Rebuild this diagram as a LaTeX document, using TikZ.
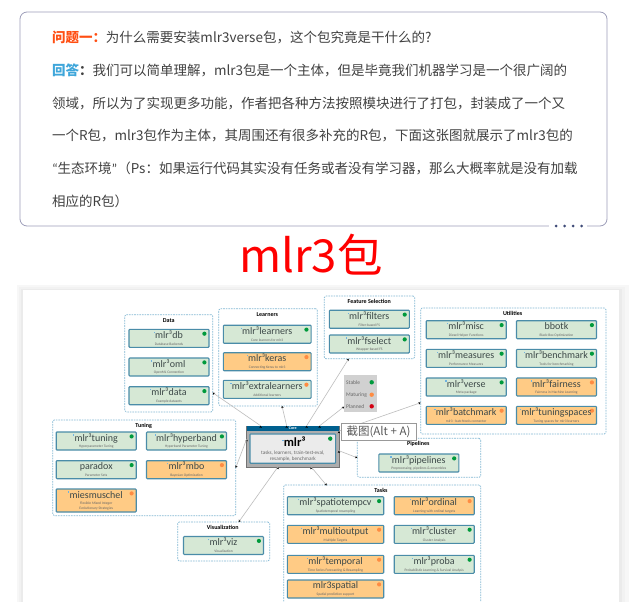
\documentclass[tikz,border=0pt]{standalone}
\usepackage{fontspec}
\usepackage{tikz}
\usetikzlibrary{arrows.meta,shadows}
\setmainfont{Noto Sans CJK SC}
\newfontfamily\pkgfont{Carlito}

\definecolor{boxline}{HTML}{9C9DB8}
\definecolor{boxdots}{HTML}{3F4B78}
\definecolor{bodytxt}{HTML}{404040}
\definecolor{qred}{HTML}{FF4E12}
\definecolor{ablue}{HTML}{3FA6DA}
\definecolor{grpline}{HTML}{82B8D3}
\definecolor{pkgline}{HTML}{4A8CA8}
\definecolor{pkggreen}{HTML}{D6E8D5}
\definecolor{pkgorange}{HTML}{FFCB85}
\definecolor{dotgreen}{HTML}{009A3C}
\definecolor{dotorange}{HTML}{FF8C42}
\definecolor{dotred}{HTML}{D40012}
\definecolor{pkgtxt}{HTML}{3C4848}
\definecolor{subtxt}{HTML}{666666}
\definecolor{iconblue}{HTML}{6FB2E0}
\definecolor{corehead}{HTML}{00608F}
\definecolor{linkgray}{HTML}{BDBDBD}

\newcommand{\lnk}{\llap{\textcolor{iconblue}{\rule[5.5pt]{1.3pt}{1.3pt}}\kern.2pt}}
\newcommand{\pk}[2]{{\fontsize{10}{9}\selectfont\color{pkgtxt}#1}\\[2.4pt]{\color{subtxt}#2}}

\tikzset{
  para/.style={anchor=west,inner sep=0,outer sep=0,text=bodytxt,font=\fontsize{13.5}{14}\selectfont},
  grp/.style={draw=grpline,dashed,dash pattern=on 1.6pt off 1pt,line width=.7pt,rounded corners=1.5pt,inner sep=0,outer sep=0},
  grptitle/.style={inner sep=0,text=black,font=\pkgfont\bfseries\fontsize{6}{7}\selectfont},
  pkg/.style={draw=pkgline,line width=1.1pt,rounded corners=.8pt,minimum width=80,minimum height=18,inner sep=0,outer sep=0,align=center,
    font=\pkgfont\fontsize{3.6}{4.4}\selectfont},
  gdot/.style={path picture={\fill[dotgreen] ([xshift=-4.6pt,yshift=-4.4pt]path picture bounding box.north east) circle (2.1pt);}},
  odot/.style={path picture={\fill[dotorange] ([xshift=-4.6pt,yshift=-4.4pt]path picture bounding box.north east) circle (2.1pt);}},
  stablebox/.style={pkg,fill=pkggreen,gdot},
  matbox/.style={pkg,fill=pkgorange,odot},
  mixbox/.style={pkg,fill=pkggreen,odot},
  qdot/.style={circle,fill=boxdots,minimum size=3,inner sep=0},
  keydot/.style={circle,minimum size=4.4,inner sep=0},
  keytxt/.style={anchor=west,inner sep=0,text=subtxt,font=\pkgfont\fontsize{5.5}{6}\selectfont},
  link/.style={draw=linkgray,line width=.6pt,-{Stealth[length=2.2pt,width=2.4pt,black]}}
}

\begin{document}
\begin{tikzpicture}[x=1pt,y=-1pt]
\useasboundingbox (0,0) rectangle (640,602);

% question box
\path (313.5,119) node[draw=boxline,line width=.8pt,rounded corners=7pt,minimum width=587,minimum height=214,inner sep=0,outer sep=0] (qbox) {};
\path (568,226) node[fill=white,minimum width=38,minimum height=3,inner sep=0] (qgap) {};
\path (556,226) node[qdot] (qd1) {};
\path (564.5,226) node[qdot] (qd2) {};
\path (573,226) node[qdot] (qd3) {};
\path (581.5,226) node[qdot] (qd4) {};
\path (52,37) node[para] (l1) {\textcolor{qred}{\bfseries 问题一\char"FF1A}为什么需要安装mlr3verse包\char"FF0C 这个包究竟是干什么的?};
\path (52,70.5) node[para] (l2) {\textcolor{ablue}{\bfseries 回答}\textbf{\char"FF1A}我们可以简单理解\char"FF0C mlr3包是一个主体\char"FF0C 但是毕竟我们机器学习是一个很广阔的};
\path (52,103) node[para] (l3) {领域\char"FF0C 所以为了实现更多功能\char"FF0C 作者把各种方法按照模块进行了打包\char"FF0C 封装成了一个又};
\path (52,135.5) node[para] (l4) {一个R包\char"FF0C mlr3包作为主体\char"FF0C 其周围还有很多补充的R包\char"FF0C 下面这张图就展示了mlr3包的};
\path (52,168) node[para] (l5) {{\pkgfont “}生态环境{\pkgfont ”}\char"FF08 Ps\char"FF1A 如果运行代码其实没有任务或者没有学习器\char"FF0C 那么大概率就是没有加载};
\path (52,201) node[para] (l6) {相应的R包\char"FF09};
\path (311,255) node[inner sep=0,text=red,font=\fontsize{45.5}{48}\selectfont] (bigtitle) {mlr3包};

% card behind the diagram, soft edge
\path (323,446) node[fill=black!3,minimum width=612,minimum height=322,inner sep=0] (cardedge) {};
\path (322,446.5) node[fill=black!5,minimum width=606,minimum height=319,inner sep=0] (cardedgeb) {};
\path (321.5,447) node[fill=black!8,minimum width=601,minimum height=316,inner sep=0] (cardedgec) {};
\path (321.2,447) node[fill=white,minimum width=596.2,minimum height=314,inner sep=0] (card) {};

% groups
\path (168.7,363.3) node[grp,minimum width=88,minimum height=97.3] (gdata) {};
\path (268,357.3) node[grp,minimum width=98.6,minimum height=97.3] (glearn) {};
\path (369.5,327.3) node[grp,minimum width=90.4,minimum height=62.7] (gfeat) {};
\path (513.3,371) node[grp,minimum width=185.3,minimum height=126] (gutil) {};
\path (144.2,467.8) node[grp,minimum width=183,minimum height=95.7] (gtune) {};
\path (223.7,541.5) node[grp,minimum width=92,minimum height=39] (gvis) {};
\path (419,457.8) node[grp,minimum width=123.4,minimum height=39] (gpipe) {};
\path (382.2,548.5) node[grp,minimum width=197,minimum height=127] (gtask) {};

\path (168.7,320.5) node[grptitle] (tdata) {Data};
\path (267.3,314.5) node[grptitle] (tlearn) {Learners};
\path (369.3,301.7) node[grptitle] (tfeat) {Feature Selection};
\path (512.7,313.3) node[grptitle] (tutil) {Utilities};
\path (143.7,426) node[grptitle] (ttune) {Tuning};
\path (222.7,527.7) node[grptitle] (tvis) {Visualization};
\path (418.3,443.7) node[grptitle] (tpipe) {Pipelines};
\path (381,490.5) node[grptitle] (ttask) {Tasks};

% data
\path (169,338.3) node[stablebox] (db) {\pk{\lnk mlr³db}{Database Backends}};
\path (169,367) node[stablebox] (oml) {\pk{\lnk mlr³oml}{OpenML Connection}};
\path (169,395.7) node[stablebox] (data) {\pk{\lnk mlr³data}{Example datasets}};

% learners
\path (267.2,334.2) node[stablebox,minimum width=87.7] (learners) {\pk{\lnk mlr³learners}{Core learners for mlr3}};
\path (267.2,361.7) node[matbox,minimum width=87.7] (keras) {\pk{\lnk mlr³keras}{Connecting Keras to mlr3}};
\path (267.2,389.3) node[mixbox,minimum width=87.7] (extra) {\pk{\lnk mlr³extralearners}{Additional learners}};

% feature selection
\path (369.3,319.2) node[stablebox] (filters) {\pk{\lnk mlr³filters}{Filter-based FS}};
\path (369.3,344) node[stablebox] (fselect) {\pk{\lnk mlr³fselect}{Wrapper-based FS}};

% utilities
\path (466.2,329.7) node[stablebox] (misc) {\pk{\lnk mlr³misc}{Diesel Helper Functions}};
\path (466.2,358.3) node[stablebox] (measures) {\pk{\lnk mlr³measures}{Performance Measures}};
\path (466.2,387) node[stablebox] (verse) {\pk{\lnk mlr³verse}{Meta-package}};
\path (466.2,415.3) node[matbox] (batchmark) {\pk{\lnk mlr³batchmark}{mlr3 - batchtools connector}};
\path (556.5,329.7) node[stablebox] (bbotk) {\pk{bbotk}{Black-Box Optimization}};
\path (556.5,358.3) node[stablebox] (benchmark) {\pk{\lnk mlr³benchmark}{Tools for benchmarking}};
\path (556.5,387) node[matbox] (fairness) {\pk{\lnk mlr³fairness}{Fairness in Machine Learning}};
\path (556.5,415.3) node[matbox] (tspaces) {\pk{\lnk mlr³tuningspaces}{Tuning spaces for mlr3 learners}};

% tuning
\path (96.2,441) node[stablebox] (tuning) {\pk{\lnk mlr³tuning}{Hyperparameter Tuning}};
\path (186.5,441) node[stablebox] (hyperband) {\pk{\lnk mlr³hyperband}{Hyperband Parameter Tuning}};
\path (96.2,469.7) node[stablebox] (paradox) {\pk{paradox}{Parameter Sets}};
\path (186.5,469.7) node[matbox] (mbo) {\pk{\lnk mlr³mbo}{Bayesian Optimization}};
\path (96.2,500.5) node[matbox,minimum height=23] (mies) {\pk{\lnk miesmuschel}{Flexible Mixed Integer}\\{\color{subtxt}Evolutionary Strategies}};

% visualization, pipelines
\path (223.5,545.5) node[stablebox] (viz) {\pk{\lnk mlr³viz}{Visualization}};
\path (418.8,463) node[stablebox] (pipelines) {\pk{\lnk mlr³pipelines}{Preprocessing, pipelines \& ensembles}};

% tasks
\path (335.5,505.7) node[stablebox,minimum width=96.4] (spatio) {\pk{\lnk mlr³spatiotempcv}{Spatiotemporal resampling}};
\path (335.5,534.3) node[matbox,minimum width=96.4] (multi) {\pk{\lnk mlr³multioutput}{Multiple Targets}};
\path (335.5,564.3) node[matbox,minimum width=96.4] (temporal) {\pk{\lnk mlr³temporal}{Time Series Forecasting \& Resampling}};
\path (335.5,589) node[matbox,minimum width=96.4] (spatial) {\pk{mlr3spatial}{Spatial prediction support}};
\path (434.2,505.7) node[matbox] (ordinal) {\pk{\lnk mlr³ordinal}{Learning with ordinal targets}};
\path (434.2,534.3) node[stablebox] (cluster) {\pk{\lnk mlr³cluster}{Cluster Analysis}};
\path (434.2,564.3) node[stablebox] (proba) {\pk{\lnk mlr³proba}{Probabilistic Learning \& Survival Analysis}};

% core
\path (292.8,446.4) node[draw=black!55,fill=black!32,line width=.5pt,minimum width=92.3,minimum height=41.3,inner sep=0,outer sep=0] (coreframe) {};
\path (292.8,428.5) node[fill=corehead,minimum width=92.3,minimum height=5.6,inner sep=0,outer sep=0,text=white,font=\pkgfont\bfseries\fontsize{4}{4}\selectfont] (corehd) {Core};
\path (292.8,448.6) node[pkg,fill=black!8,minimum width=85.7,minimum height=29.3,path picture={\fill[dotgreen] ([xshift=-5.4pt,yshift=-4.7pt]path picture bounding box.north east) circle (2.2pt);}] (core) {};
\path (294.7,441.5) node[inner sep=0,font=\pkgfont\bfseries\fontsize{12.5}{13}\selectfont] (corename) {\lnk mlr³};
\path (292.8,456) node[inner sep=0,align=center,text=subtxt,font=\pkgfont\fontsize{5.2}{6}\selectfont] (coresub) {tasks, learners, train-test-eval,\\resample, benchmark};

% legend
\path (360.7,393.7) node[fill=black!18,minimum width=33.3,minimum height=36.7,inner sep=0,outer sep=0] (legend) {};
\path (346,382.3) node[keytxt] (kstable) {Stable};
\path (346,394.7) node[keytxt] (kmat) {Maturing};
\path (346,406.3) node[keytxt] (kplan) {Planned};
\path (371.7,382.3) node[keydot,fill=dotgreen] (dstable) {};
\path (371.7,394.7) node[keydot,fill=dotorange] (dmat) {};
\path (371.7,406.3) node[keydot,fill=dotred] (dplan) {};

% connectors
\path[link] ([xshift=14pt]coreframe.north west) edge ([yshift=-29.4pt]gdata.east);
\path[link] ([xshift=40pt]coreframe.north west) edge ([xshift=14pt]glearn.south);
\path[link] ([xshift=60pt]coreframe.north west) edge ([xshift=-20.8pt]gfeat.south);
\path[link] ([xshift=73pt]coreframe.north west) edge ([yshift=-13pt]legend.west);
\path[link] ([yshift=-5.4pt]coreframe.north east) edge ([yshift=-31.7pt]gutil.west);
\path[link] ([yshift=-4.3pt]coreframe.east) edge (gpipe.west);
\path[link] ([xshift=18.5pt]coreframe.south) edge ([yshift=-.5pt,xshift=-55.5pt]gtask.north);
\path[link] ([xshift=-15pt]coreframe.south) edge ([xshift=15pt]gvis.north);
\path[link] ([yshift=7.3pt]coreframe.west) edge (gtune.east);

% tooltip on top
\path (378.5,431.5) node[draw=black!40,fill=white,line width=.7pt,minimum width=75,minimum height=17,inner sep=0,outer sep=0,text=black!65,font=\fontsize{11.5}{13}\selectfont,drop shadow={opacity=.25,shadow xshift=1pt,shadow yshift=-1pt}] (tooltip) {截图(Alt + A)};
\end{tikzpicture}
\end{document}
